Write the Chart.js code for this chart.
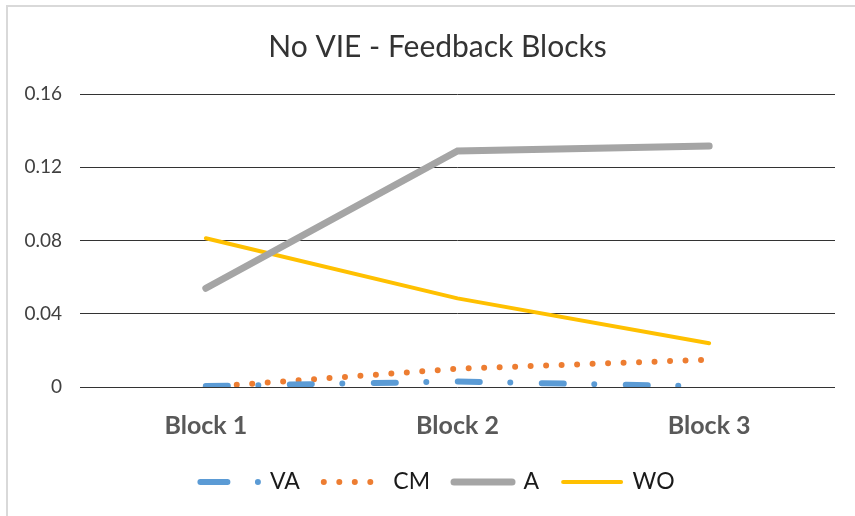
<!DOCTYPE html>
<html>
<head>
<meta charset="utf-8">
<script src="https://cdn.jsdelivr.net/npm/chart.js@4.4.1/dist/chart.umd.min.js"></script>
<style>
  html, body { margin: 0; padding: 0; background: #ffffff; overflow: hidden; }
  #wrap { position: relative; width: 855px; height: 516px; }
  #frame { position: absolute; left: 6px; top: 5px; width: 1000px; height: 1000px;
           border-top: 2px solid #d9d9d9; border-left: 2px solid #d9d9d9; pointer-events: none; }
  canvas { position: absolute; left: 0; top: 0; }
</style>
</head>
<body>
<div id="wrap">
  <canvas id="c" width="855" height="516"></canvas>
  <div id="frame"></div>
</div>
<script>
const categories = ['Block 1', 'Block 2', 'Block 3'];
const seriesNames = ['VA', 'CM', 'A', 'WO'];
const vaValues = [0.0005, 0.0030, 0.0003];
const cmValues = [0.0000, 0.0100, 0.0149];
const aValues  = [0.0539, 0.1289, 0.1316];
const woValues = [0.0812, 0.0484, 0.0239];
const yTickLabels = ['0', '0.04', '0.08', '0.12', '0.16'];

const FONT = 'Lato';

const chart = new Chart(document.getElementById('c'), {
  type: 'line',
  data: {
    labels: categories,
    datasets: [
      { label: seriesNames[0], data: vaValues, borderColor: '#5B9BD5', backgroundColor: '#5B9BD5',
        borderWidth: 6, borderDash: [22, 30.5, 0, 31.5], borderCapStyle: 'round', borderJoinStyle: 'round',
        pointRadius: 0, fill: false, tension: 0 },
      { label: seriesNames[1], data: cmValues, borderColor: '#ED7D31', backgroundColor: '#ED7D31',
        borderWidth: 6, borderDash: [0, 15.5], borderCapStyle: 'round', borderJoinStyle: 'round',
        pointRadius: 0, fill: false, tension: 0 },
      { label: seriesNames[2], data: aValues, borderColor: '#A5A5A5', backgroundColor: '#A5A5A5',
        borderWidth: 7, borderCapStyle: 'round', borderJoinStyle: 'miter',
        pointRadius: 0, fill: false, tension: 0 },
      { label: seriesNames[3], data: woValues, borderColor: '#FFC000', backgroundColor: '#FFC000',
        borderWidth: 4, borderCapStyle: 'round', borderJoinStyle: 'round',
        pointRadius: 0, fill: false, tension: 0 }
    ]
  },
  options: {
    responsive: false,
    animation: false,
    devicePixelRatio: 1,
    layout: { padding: { left: 20, right: 0, top: 0, bottom: 12.5 } },
    plugins: {
      title: {
        display: true,
        text: 'No VIE - Feedback Blocks',
        color: '#333333',
        font: { family: FONT, size: 30, weight: 'normal' },
        padding: { top: 29, bottom: 29 }
      },
      legend: {
        display: true,
        position: 'bottom',
        labels: {
          usePointStyle: true,
          pointStyle: 'line',
          pointStyleWidth: 58,
          boxHeight: 5,
          padding: 24,
          color: '#1a1a1a',
          font: { family: FONT, size: 23 },
          generateLabels: function(ch) {
            const items = Chart.defaults.plugins.legend.labels.generateLabels(ch);
            items.forEach(it => {
              it.pointStyle = 'line';
              it.lineCap = 'round';
              if (it.text === 'VA') { it.lineDash = [27, 30.5, 0, 200]; }
              if (it.text === 'CM') { it.lineDash = [0, 15.5]; }
            });
            return items;
          }
        }
      },
      tooltip: { enabled: false }
    },
    scales: {
      x: {
        offset: true,
        grid: { display: false, drawTicks: false },
        border: { display: false },
        ticks: { color: '#595959', font: { family: FONT, size: 25, weight: 'bold' }, padding: 24 },
        afterFit: function(s) { s.height = 59.5; }
      },
      y: {
        min: 0, max: 0.16,
        grid: { color: '#333333', lineWidth: 1, drawTicks: false },
        border: { display: false },
        ticks: {
          stepSize: 0.04,
          color: '#404040',
          font: { family: FONT, size: 19 },
          padding: 18,
          callback: function(v, i) { return yTickLabels[i]; }
        },
        afterFit: function(s) { s.width = 60; }
      },
      y2: {
        position: 'right',
        display: true,
        grid: { display: false, drawTicks: false },
        border: { display: false },
        ticks: { display: false },
        afterFit: function(s) { s.width = 20; }
      }
    }
  }
});
</script>
</body>
</html>
